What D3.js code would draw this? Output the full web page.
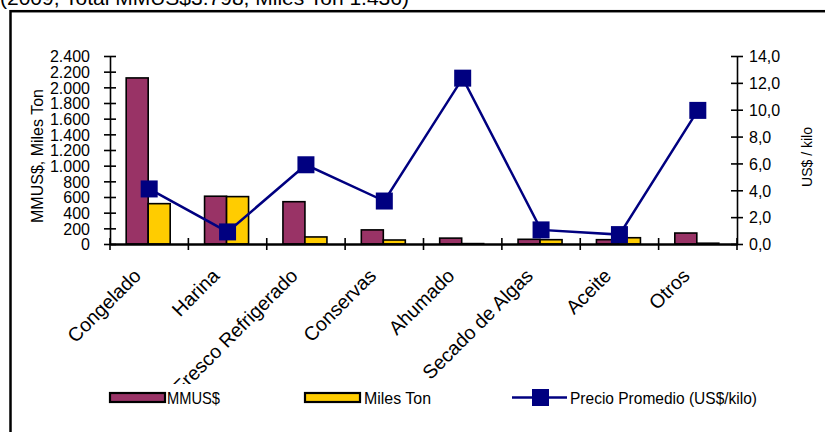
<!DOCTYPE html>
<html>
<head>
<meta charset="utf-8">
<script src="https://cdn.jsdelivr.net/npm/d3@7"></script>
<style>
  html, body { margin: 0; padding: 0; background: #fff; }
  svg { display: block; font-family: "Liberation Sans", Arial, sans-serif; }
</style>
</head>
<body>
<svg id="chart"></svg>
<script>
/* ------------ DATA ---------------------------------------------------- */
const categories = ['Congelado', 'Harina', 'Fresco Refrigerado', 'Conservas', 'Ahumado', 'Secado de Algas', 'Aceite', 'Otros'];
const mmus      = [2120, 610, 540, 180, 75, 60, 55, 140];
const milesTon  = [515, 605, 90, 51, 5, 55, 80, 10];
const precio    = [4.1, 0.9, 5.9, 3.2, 12.35, 1.05, 0.7, 9.95];
const leftTicks  = d3.range(0, 2401, 200);
const rightTicks = d3.range(0, 14.01, 2);
const titleText  = '(2009, Total MMUS$3.798, Miles Ton 1.436)';

/* ------------ LAYOUT -------------------------------------------------- */
const W = 825, H = 432;
const x0 = 110, x1 = 737, yTop = 56, yBot = 244;

const svg = d3.select('#chart').attr('width', W).attr('height', H);

const fmtL = d3.formatLocale({ decimal: ',', thousands: '.', grouping: [3], currency: ['', ''] });
const fmtInt = fmtL.format(',d');
const fmt1 = fmtL.format('.1f');

/* ------------ SCALES -------------------------------------------------- */
const x = d3.scaleBand().domain(categories).range([x0, x1]);
const xSub = d3.scaleBand().domain(['mmus', 'ton']).range([0, 44]);
const yL = d3.scaleLinear().domain([0, 2400]).range([yBot, yTop]);
const yR = d3.scaleLinear().domain([0, 14]).range([yBot, yTop]);
const cx = (d) => x(d) + x.bandwidth() / 2;

/* ------------ FRAME + TITLE ------------------------------------------ */
svg.append('text').attr('x', 0).attr('y', 5)
  .attr('font-size', 21).text(titleText);

svg.append('rect')
  .attr('x', 10.5).attr('y', 11.2).attr('width', W + 10).attr('height', H + 10)
  .attr('fill', 'none').attr('stroke', '#000').attr('stroke-width', 2.5);

/* ------------ BARS ---------------------------------------------------- */
const bars = svg.append('g');
const groupOff = (x.bandwidth() - 44) / 2 - 1;

bars.selectAll('rect.m').data(categories).join('rect')
  .attr('class', 'm')
  .attr('x', (d) => x(d) + groupOff + xSub('mmus'))
  .attr('y', (d, i) => yL(mmus[i]))
  .attr('width', xSub.bandwidth())
  .attr('height', (d, i) => yBot - yL(mmus[i]))
  .attr('fill', '#993366').attr('stroke', '#000').attr('stroke-width', 1.6);

bars.selectAll('rect.t').data(categories).join('rect')
  .attr('class', 't')
  .attr('x', (d) => x(d) + groupOff + xSub('ton'))
  .attr('y', (d, i) => yL(milesTon[i]))
  .attr('width', xSub.bandwidth())
  .attr('height', (d, i) => yBot - yL(milesTon[i]))
  .attr('fill', '#FFCC00').attr('stroke', '#000').attr('stroke-width', 1.6);

/* ------------ AXES ---------------------------------------------------- */
const axL = svg.append('g').attr('transform', `translate(${x0},0)`)
  .call(d3.axisLeft(yL).tickValues(leftTicks).tickFormat(fmtInt).tickSizeOuter(0));
axL.selectAll('.tick line').attr('x1', -6).attr('x2', 6).attr('stroke-width', 1.6);
axL.select('.domain').attr('stroke-width', 1.6);
axL.selectAll('.tick text').attr('x', -20).attr('font-size', 16).attr('dy', '0.36em');

const axR = svg.append('g').attr('transform', `translate(${x1},0)`)
  .call(d3.axisRight(yR).tickValues(rightTicks).tickFormat(fmt1).tickSizeOuter(0));
axR.selectAll('.tick line').attr('x1', -6).attr('x2', 6).attr('stroke-width', 1.6);
axR.select('.domain').attr('stroke-width', 1.6);
axR.selectAll('.tick text').attr('x', 12).attr('font-size', 16).attr('dy', '0.36em');

const axB = svg.append('g').attr('transform', `translate(0,${yBot})`)
  .call(d3.axisBottom(x).tickSize(0).tickSizeOuter(0));
axB.select('.domain').attr('stroke-width', 2.5);
axB.selectAll('.tick text').remove();

// category boundary ticks
axB.selectAll('line.cb').data(d3.range(categories.length + 1)).join('line')
  .attr('class', 'cb')
  .attr('x1', (i) => x0 + i * x.step()).attr('x2', (i) => x0 + i * x.step())
  .attr('y1', -6).attr('y2', 6)
  .attr('stroke', '#000').attr('stroke-width', 1.6);

// rotated category labels, clipped above the legend
svg.append('clipPath').attr('id', 'labclip')
  .append('rect').attr('x', 0).attr('y', yBot).attr('width', W).attr('height', 140);

svg.append('g').attr('clip-path', 'url(#labclip)')
  .selectAll('text').data(categories).join('text')
  .attr('transform', (d) => `translate(${cx(d) - 7},${yBot + 33}) rotate(-45)`)
  .attr('text-anchor', 'end')
  .attr('font-size', 19.5)
  .text((d) => d);

/* ------------ LINE ---------------------------------------------------- */
const line = d3.line().x((d) => cx(d)).y((d, i) => yR(precio[i]));

svg.append('path').datum(categories)
  .attr('d', line)
  .attr('fill', 'none').attr('stroke', '#000080').attr('stroke-width', 2.5);

svg.append('g').selectAll('rect').data(categories).join('rect')
  .attr('x', (d) => cx(d) - 8.5)
  .attr('y', (d, i) => yR(precio[i]) - 8.5)
  .attr('width', 17).attr('height', 17)
  .attr('fill', '#000080');

/* ------------ AXIS TITLES -------------------------------------------- */
svg.append('text')
  .attr('transform', `translate(43,${(yTop + yBot) / 2 + 6}) rotate(-90)`)
  .attr('text-anchor', 'middle').attr('font-size', 16)
  .text('MMUS$, Miles Ton');

svg.append('text')
  .attr('transform', `translate(812,${(yTop + yBot) / 2 + 7}) rotate(-90)`)
  .attr('text-anchor', 'middle').attr('font-size', 14)
  .text('US$ / kilo');

/* ------------ LEGEND ------------------------------------------------- */
const leg = svg.append('g');
const ly = 397.5;

leg.append('rect').attr('x', 110).attr('y', ly - 4.5).attr('width', 55).attr('height', 9)
  .attr('fill', '#993366').attr('stroke', '#000').attr('stroke-width', 2.2);
leg.append('text').attr('x', 167).attr('y', ly + 6.5).attr('font-size', 17)
  .attr('textLength', 53).attr('lengthAdjust', 'spacingAndGlyphs').text('MMUS$');

leg.append('rect').attr('x', 305).attr('y', ly - 4.5).attr('width', 55).attr('height', 9)
  .attr('fill', '#FFCC00').attr('stroke', '#000').attr('stroke-width', 2.2);
leg.append('text').attr('x', 364).attr('y', ly + 6.5).attr('font-size', 17)
  .attr('textLength', 67).attr('lengthAdjust', 'spacingAndGlyphs').text('Miles Ton');

leg.append('line').attr('x1', 512).attr('x2', 567).attr('y1', ly).attr('y2', ly)
  .attr('stroke', '#000080').attr('stroke-width', 2.5);
leg.append('rect').attr('x', 532).attr('y', ly - 8.5).attr('width', 17).attr('height', 17)
  .attr('fill', '#000080');
leg.append('text').attr('x', 570).attr('y', ly + 6.5).attr('font-size', 17)
  .attr('textLength', 187).attr('lengthAdjust', 'spacingAndGlyphs').text('Precio Promedio (US$/kilo)');
</script>
</body>
</html>
